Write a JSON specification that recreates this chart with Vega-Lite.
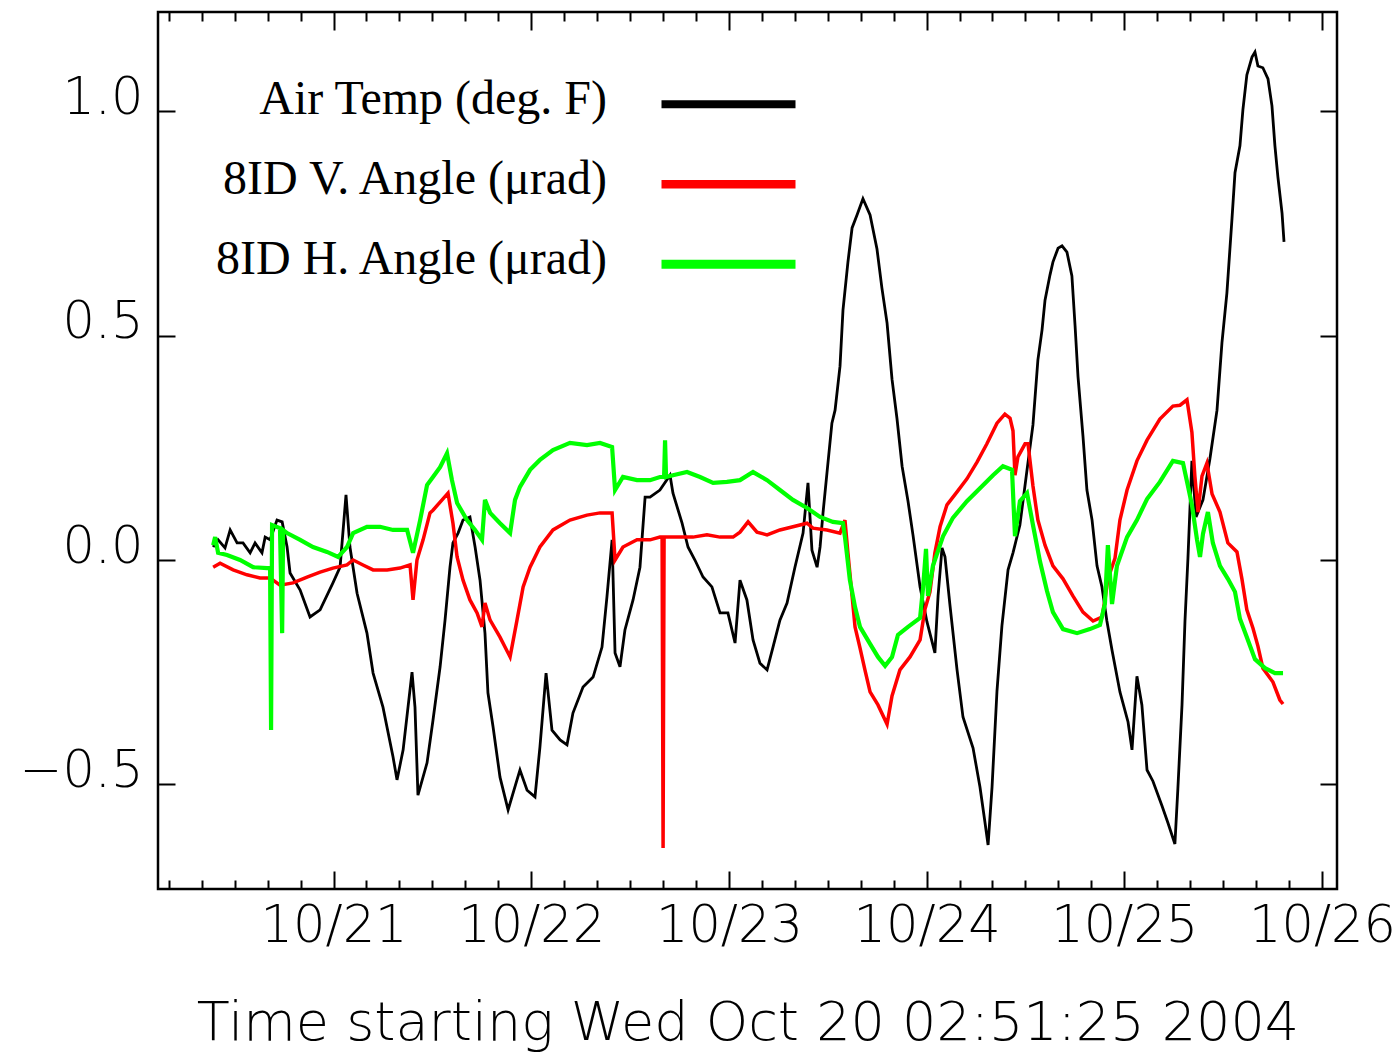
{
  "$schema": "https://vega.github.io/schema/vega-lite/v6.json",
  "width": 1179,
  "height": 877,
  "autosize": "none",
  "padding": {"left": 158, "top": 12, "right": 60, "bottom": 166},
  "background": "white",
  "config": {
    "view": {"stroke": "black", "strokeWidth": 2.5},
    "axis": {"grid": false, "domain": false, "tickColor": "black", "tickWidth": 2, "labelColor": "black", "labelFont": "DejaVu Sans", "labelFontSize": 51, "labelFontWeight": 200, "labelFlush": false, "labelOverlap": false, "titleColor": "black"}
  },
  "data": {"values": [
    {"s":"Air Temp (deg. F)","d":20.391,"v":0.029},{"s":"Air Temp (deg. F)","d":20.416,"v":0.045},{"s":"Air Temp (deg. F)","d":20.451,"v":0.027},{"s":"Air Temp (deg. F)","d":20.477,"v":0.067},{"s":"Air Temp (deg. F)","d":20.512,"v":0.038},{"s":"Air Temp (deg. F)","d":20.542,"v":0.038},{"s":"Air Temp (deg. F)","d":20.578,"v":0.016},{"s":"Air Temp (deg. F)","d":20.603,"v":0.038},{"s":"Air Temp (deg. F)","d":20.638,"v":0.016},{"s":"Air Temp (deg. F)","d":20.654,"v":0.051},{"s":"Air Temp (deg. F)","d":20.679,"v":0.045},{"s":"Air Temp (deg. F)","d":20.714,"v":0.089},{"s":"Air Temp (deg. F)","d":20.740,"v":0.085},{"s":"Air Temp (deg. F)","d":20.765,"v":0.029},{"s":"Air Temp (deg. F)","d":20.780,"v":-0.029},{"s":"Air Temp (deg. F)","d":20.831,"v":-0.067},{"s":"Air Temp (deg. F)","d":20.881,"v":-0.127},{"s":"Air Temp (deg. F)","d":20.932,"v":-0.111},{"s":"Air Temp (deg. F)","d":20.997,"v":-0.051},{"s":"Air Temp (deg. F)","d":21.033,"v":-0.016},{"s":"Air Temp (deg. F)","d":21.063,"v":0.145},{"s":"Air Temp (deg. F)","d":21.083,"v":0.029},{"s":"Air Temp (deg. F)","d":21.119,"v":-0.074},{"s":"Air Temp (deg. F)","d":21.169,"v":-0.163},{"s":"Air Temp (deg. F)","d":21.200,"v":-0.252},{"s":"Air Temp (deg. F)","d":21.250,"v":-0.328},{"s":"Air Temp (deg. F)","d":21.301,"v":-0.439},{"s":"Air Temp (deg. F)","d":21.321,"v":-0.490},{"s":"Air Temp (deg. F)","d":21.352,"v":-0.423},{"s":"Air Temp (deg. F)","d":21.397,"v":-0.250},{"s":"Air Temp (deg. F)","d":21.412,"v":-0.328},{"s":"Air Temp (deg. F)","d":21.427,"v":-0.524},{"s":"Air Temp (deg. F)","d":21.473,"v":-0.452},{"s":"Air Temp (deg. F)","d":21.503,"v":-0.357},{"s":"Air Temp (deg. F)","d":21.539,"v":-0.238},{"s":"Air Temp (deg. F)","d":21.564,"v":-0.134},{"s":"Air Temp (deg. F)","d":21.589,"v":-0.016},{"s":"Air Temp (deg. F)","d":21.604,"v":0.038},{"s":"Air Temp (deg. F)","d":21.630,"v":0.060},{"s":"Air Temp (deg. F)","d":21.655,"v":0.089},{"s":"Air Temp (deg. F)","d":21.690,"v":0.096},{"s":"Air Temp (deg. F)","d":21.716,"v":0.029},{"s":"Air Temp (deg. F)","d":21.741,"v":-0.045},{"s":"Air Temp (deg. F)","d":21.766,"v":-0.163},{"s":"Air Temp (deg. F)","d":21.781,"v":-0.296},{"s":"Air Temp (deg. F)","d":21.807,"v":-0.372},{"s":"Air Temp (deg. F)","d":21.842,"v":-0.484},{"s":"Air Temp (deg. F)","d":21.883,"v":-0.557},{"s":"Air Temp (deg. F)","d":21.928,"v":-0.490},{"s":"Air Temp (deg. F)","d":21.943,"v":-0.468},{"s":"Air Temp (deg. F)","d":21.979,"v":-0.513},{"s":"Air Temp (deg. F)","d":22.019,"v":-0.528},{"s":"Air Temp (deg. F)","d":22.044,"v":-0.417},{"s":"Air Temp (deg. F)","d":22.075,"v":-0.252},{"s":"Air Temp (deg. F)","d":22.105,"v":-0.379},{"s":"Air Temp (deg. F)","d":22.146,"v":-0.401},{"s":"Air Temp (deg. F)","d":22.181,"v":-0.412},{"s":"Air Temp (deg. F)","d":22.211,"v":-0.341},{"s":"Air Temp (deg. F)","d":22.262,"v":-0.283},{"s":"Air Temp (deg. F)","d":22.313,"v":-0.261},{"s":"Air Temp (deg. F)","d":22.358,"v":-0.194},{"s":"Air Temp (deg. F)","d":22.383,"v":-0.082},{"s":"Air Temp (deg. F)","d":22.409,"v":0.045},{"s":"Air Temp (deg. F)","d":22.424,"v":-0.207},{"s":"Air Temp (deg. F)","d":22.449,"v":-0.238},{"s":"Air Temp (deg. F)","d":22.474,"v":-0.156},{"s":"Air Temp (deg. F)","d":22.515,"v":-0.089},{"s":"Air Temp (deg. F)","d":22.550,"v":-0.016},{"s":"Air Temp (deg. F)","d":22.576,"v":0.140},{"s":"Air Temp (deg. F)","d":22.601,"v":0.140},{"s":"Air Temp (deg. F)","d":22.651,"v":0.156},{"s":"Air Temp (deg. F)","d":22.702,"v":0.189},{"s":"Air Temp (deg. F)","d":22.717,"v":0.149},{"s":"Air Temp (deg. F)","d":22.763,"v":0.082},{"s":"Air Temp (deg. F)","d":22.793,"v":0.029},{"s":"Air Temp (deg. F)","d":22.828,"v":0.000},{"s":"Air Temp (deg. F)","d":22.869,"v":-0.038},{"s":"Air Temp (deg. F)","d":22.914,"v":-0.060},{"s":"Air Temp (deg. F)","d":22.955,"v":-0.118},{"s":"Air Temp (deg. F)","d":22.995,"v":-0.118},{"s":"Air Temp (deg. F)","d":23.031,"v":-0.185},{"s":"Air Temp (deg. F)","d":23.056,"v":-0.045},{"s":"Air Temp (deg. F)","d":23.091,"v":-0.089},{"s":"Air Temp (deg. F)","d":23.122,"v":-0.178},{"s":"Air Temp (deg. F)","d":23.157,"v":-0.230},{"s":"Air Temp (deg. F)","d":23.193,"v":-0.245},{"s":"Air Temp (deg. F)","d":23.223,"v":-0.194},{"s":"Air Temp (deg. F)","d":23.258,"v":-0.134},{"s":"Air Temp (deg. F)","d":23.294,"v":-0.096},{"s":"Air Temp (deg. F)","d":23.334,"v":-0.016},{"s":"Air Temp (deg. F)","d":23.375,"v":0.060},{"s":"Air Temp (deg. F)","d":23.400,"v":0.172},{"s":"Air Temp (deg. F)","d":23.420,"v":0.022},{"s":"Air Temp (deg. F)","d":23.446,"v":-0.016},{"s":"Air Temp (deg. F)","d":23.461,"v":0.029},{"s":"Air Temp (deg. F)","d":23.476,"v":0.105},{"s":"Air Temp (deg. F)","d":23.496,"v":0.194},{"s":"Air Temp (deg. F)","d":23.521,"v":0.305},{"s":"Air Temp (deg. F)","d":23.537,"v":0.334},{"s":"Air Temp (deg. F)","d":23.562,"v":0.432},{"s":"Air Temp (deg. F)","d":23.577,"v":0.557},{"s":"Air Temp (deg. F)","d":23.602,"v":0.664},{"s":"Air Temp (deg. F)","d":23.623,"v":0.740},{"s":"Air Temp (deg. F)","d":23.648,"v":0.769},{"s":"Air Temp (deg. F)","d":23.678,"v":0.805},{"s":"Air Temp (deg. F)","d":23.714,"v":0.769},{"s":"Air Temp (deg. F)","d":23.749,"v":0.693},{"s":"Air Temp (deg. F)","d":23.774,"v":0.606},{"s":"Air Temp (deg. F)","d":23.800,"v":0.528},{"s":"Air Temp (deg. F)","d":23.825,"v":0.403},{"s":"Air Temp (deg. F)","d":23.850,"v":0.316},{"s":"Air Temp (deg. F)","d":23.876,"v":0.209},{"s":"Air Temp (deg. F)","d":23.906,"v":0.131},{"s":"Air Temp (deg. F)","d":23.931,"v":0.056},{"s":"Air Temp (deg. F)","d":23.967,"v":-0.060},{"s":"Air Temp (deg. F)","d":24.002,"v":-0.138},{"s":"Air Temp (deg. F)","d":24.042,"v":-0.207},{"s":"Air Temp (deg. F)","d":24.058,"v":-0.080},{"s":"Air Temp (deg. F)","d":24.078,"v":0.027},{"s":"Air Temp (deg. F)","d":24.093,"v":0.007},{"s":"Air Temp (deg. F)","d":24.118,"v":-0.100},{"s":"Air Temp (deg. F)","d":24.154,"v":-0.245},{"s":"Air Temp (deg. F)","d":24.184,"v":-0.350},{"s":"Air Temp (deg. F)","d":24.235,"v":-0.419},{"s":"Air Temp (deg. F)","d":24.270,"v":-0.506},{"s":"Air Temp (deg. F)","d":24.295,"v":-0.584},{"s":"Air Temp (deg. F)","d":24.311,"v":-0.635},{"s":"Air Temp (deg. F)","d":24.331,"v":-0.506},{"s":"Air Temp (deg. F)","d":24.356,"v":-0.292},{"s":"Air Temp (deg. F)","d":24.381,"v":-0.147},{"s":"Air Temp (deg. F)","d":24.412,"v":-0.022},{"s":"Air Temp (deg. F)","d":24.437,"v":0.016},{"s":"Air Temp (deg. F)","d":24.472,"v":0.078},{"s":"Air Temp (deg. F)","d":24.508,"v":0.201},{"s":"Air Temp (deg. F)","d":24.538,"v":0.301},{"s":"Air Temp (deg. F)","d":24.563,"v":0.446},{"s":"Air Temp (deg. F)","d":24.584,"v":0.513},{"s":"Air Temp (deg. F)","d":24.599,"v":0.579},{"s":"Air Temp (deg. F)","d":24.624,"v":0.635},{"s":"Air Temp (deg. F)","d":24.639,"v":0.664},{"s":"Air Temp (deg. F)","d":24.665,"v":0.695},{"s":"Air Temp (deg. F)","d":24.685,"v":0.700},{"s":"Air Temp (deg. F)","d":24.710,"v":0.686},{"s":"Air Temp (deg. F)","d":24.735,"v":0.633},{"s":"Air Temp (deg. F)","d":24.751,"v":0.522},{"s":"Air Temp (deg. F)","d":24.766,"v":0.408},{"s":"Air Temp (deg. F)","d":24.791,"v":0.276},{"s":"Air Temp (deg. F)","d":24.811,"v":0.156},{"s":"Air Temp (deg. F)","d":24.837,"v":0.089},{"s":"Air Temp (deg. F)","d":24.862,"v":-0.013},{"s":"Air Temp (deg. F)","d":24.887,"v":-0.060},{"s":"Air Temp (deg. F)","d":24.912,"v":-0.136},{"s":"Air Temp (deg. F)","d":24.938,"v":-0.201},{"s":"Air Temp (deg. F)","d":24.978,"v":-0.294},{"s":"Air Temp (deg. F)","d":25.019,"v":-0.361},{"s":"Air Temp (deg. F)","d":25.039,"v":-0.423},{"s":"Air Temp (deg. F)","d":25.064,"v":-0.259},{"s":"Air Temp (deg. F)","d":25.089,"v":-0.323},{"s":"Air Temp (deg. F)","d":25.115,"v":-0.468},{"s":"Air Temp (deg. F)","d":25.145,"v":-0.493},{"s":"Air Temp (deg. F)","d":25.191,"v":-0.548},{"s":"Air Temp (deg. F)","d":25.221,"v":-0.586},{"s":"Air Temp (deg. F)","d":25.256,"v":-0.633},{"s":"Air Temp (deg. F)","d":25.271,"v":-0.510},{"s":"Air Temp (deg. F)","d":25.292,"v":-0.323},{"s":"Air Temp (deg. F)","d":25.307,"v":-0.136},{"s":"Air Temp (deg. F)","d":25.322,"v":0.004},{"s":"Air Temp (deg. F)","d":25.342,"v":0.221},{"s":"Air Temp (deg. F)","d":25.363,"v":0.096},{"s":"Air Temp (deg. F)","d":25.398,"v":0.134},{"s":"Air Temp (deg. F)","d":25.433,"v":0.225},{"s":"Air Temp (deg. F)","d":25.469,"v":0.334},{"s":"Air Temp (deg. F)","d":25.494,"v":0.484},{"s":"Air Temp (deg. F)","d":25.519,"v":0.595},{"s":"Air Temp (deg. F)","d":25.545,"v":0.762},{"s":"Air Temp (deg. F)","d":25.560,"v":0.863},{"s":"Air Temp (deg. F)","d":25.585,"v":0.923},{"s":"Air Temp (deg. F)","d":25.600,"v":1.003},{"s":"Air Temp (deg. F)","d":25.620,"v":1.081},{"s":"Air Temp (deg. F)","d":25.646,"v":1.121},{"s":"Air Temp (deg. F)","d":25.661,"v":1.132},{"s":"Air Temp (deg. F)","d":25.676,"v":1.101},{"s":"Air Temp (deg. F)","d":25.701,"v":1.097},{"s":"Air Temp (deg. F)","d":25.727,"v":1.072},{"s":"Air Temp (deg. F)","d":25.747,"v":1.012},{"s":"Air Temp (deg. F)","d":25.762,"v":0.923},{"s":"Air Temp (deg. F)","d":25.777,"v":0.854},{"s":"Air Temp (deg. F)","d":25.798,"v":0.773},{"s":"Air Temp (deg. F)","d":25.808,"v":0.709},
    {"s":"8ID V. Angle (μrad)","d":20.391,"v":-0.016},{"s":"8ID V. Angle (μrad)","d":20.426,"v":-0.007},{"s":"8ID V. Angle (μrad)","d":20.492,"v":-0.022},{"s":"8ID V. Angle (μrad)","d":20.562,"v":-0.033},{"s":"8ID V. Angle (μrad)","d":20.628,"v":-0.040},{"s":"8ID V. Angle (μrad)","d":20.679,"v":-0.040},{"s":"8ID V. Angle (μrad)","d":20.729,"v":-0.056},{"s":"8ID V. Angle (μrad)","d":20.795,"v":-0.051},{"s":"8ID V. Angle (μrad)","d":20.866,"v":-0.038},{"s":"8ID V. Angle (μrad)","d":20.932,"v":-0.027},{"s":"8ID V. Angle (μrad)","d":20.997,"v":-0.018},{"s":"8ID V. Angle (μrad)","d":21.068,"v":-0.011},{"s":"8ID V. Angle (μrad)","d":21.099,"v":0.000},{"s":"8ID V. Angle (μrad)","d":21.149,"v":-0.011},{"s":"8ID V. Angle (μrad)","d":21.200,"v":-0.022},{"s":"8ID V. Angle (μrad)","d":21.271,"v":-0.022},{"s":"8ID V. Angle (μrad)","d":21.336,"v":-0.018},{"s":"8ID V. Angle (μrad)","d":21.387,"v":-0.011},{"s":"8ID V. Angle (μrad)","d":21.402,"v":-0.089},{"s":"8ID V. Angle (μrad)","d":21.422,"v":0.000},{"s":"8ID V. Angle (μrad)","d":21.453,"v":0.045},{"s":"8ID V. Angle (μrad)","d":21.488,"v":0.105},{"s":"8ID V. Angle (μrad)","d":21.503,"v":0.111},{"s":"8ID V. Angle (μrad)","d":21.549,"v":0.134},{"s":"8ID V. Angle (μrad)","d":21.579,"v":0.149},{"s":"8ID V. Angle (μrad)","d":21.604,"v":0.082},{"s":"8ID V. Angle (μrad)","d":21.625,"v":0.007},{"s":"8ID V. Angle (μrad)","d":21.655,"v":-0.045},{"s":"8ID V. Angle (μrad)","d":21.690,"v":-0.089},{"s":"8ID V. Angle (μrad)","d":21.726,"v":-0.118},{"s":"8ID V. Angle (μrad)","d":21.751,"v":-0.149},{"s":"8ID V. Angle (μrad)","d":21.766,"v":-0.096},{"s":"8ID V. Angle (μrad)","d":21.792,"v":-0.134},{"s":"8ID V. Angle (μrad)","d":21.842,"v":-0.172},{"s":"8ID V. Angle (μrad)","d":21.893,"v":-0.216},{"s":"8ID V. Angle (μrad)","d":21.928,"v":-0.134},{"s":"8ID V. Angle (μrad)","d":21.959,"v":-0.060},{"s":"8ID V. Angle (μrad)","d":21.994,"v":-0.016},{"s":"8ID V. Angle (μrad)","d":22.044,"v":0.029},{"s":"8ID V. Angle (μrad)","d":22.110,"v":0.067},{"s":"8ID V. Angle (μrad)","d":22.196,"v":0.089},{"s":"8ID V. Angle (μrad)","d":22.282,"v":0.100},{"s":"8ID V. Angle (μrad)","d":22.348,"v":0.105},{"s":"8ID V. Angle (μrad)","d":22.409,"v":0.105},{"s":"8ID V. Angle (μrad)","d":22.424,"v":0.000},{"s":"8ID V. Angle (μrad)","d":22.464,"v":0.029},{"s":"8ID V. Angle (μrad)","d":22.535,"v":0.045},{"s":"8ID V. Angle (μrad)","d":22.601,"v":0.045},{"s":"8ID V. Angle (μrad)","d":22.651,"v":0.051},{"s":"8ID V. Angle (μrad)","d":22.662,"v":0.051},{"s":"8ID V. Angle (μrad)","d":22.667,"v":-0.642},{"s":"8ID V. Angle (μrad)","d":22.672,"v":0.051},{"s":"8ID V. Angle (μrad)","d":22.753,"v":0.051},{"s":"8ID V. Angle (μrad)","d":22.818,"v":0.051},{"s":"8ID V. Angle (μrad)","d":22.889,"v":0.056},{"s":"8ID V. Angle (μrad)","d":22.955,"v":0.051},{"s":"8ID V. Angle (μrad)","d":23.021,"v":0.051},{"s":"8ID V. Angle (μrad)","d":23.056,"v":0.062},{"s":"8ID V. Angle (μrad)","d":23.097,"v":0.085},{"s":"8ID V. Angle (μrad)","d":23.142,"v":0.062},{"s":"8ID V. Angle (μrad)","d":23.193,"v":0.056},{"s":"8ID V. Angle (μrad)","d":23.258,"v":0.067},{"s":"8ID V. Angle (μrad)","d":23.324,"v":0.074},{"s":"8ID V. Angle (μrad)","d":23.395,"v":0.082},{"s":"8ID V. Angle (μrad)","d":23.425,"v":0.071},{"s":"8ID V. Angle (μrad)","d":23.496,"v":0.067},{"s":"8ID V. Angle (μrad)","d":23.562,"v":0.060},{"s":"8ID V. Angle (μrad)","d":23.587,"v":0.089},{"s":"8ID V. Angle (μrad)","d":23.602,"v":0.016},{"s":"8ID V. Angle (μrad)","d":23.623,"v":-0.080},{"s":"8ID V. Angle (μrad)","d":23.638,"v":-0.149},{"s":"8ID V. Angle (μrad)","d":23.663,"v":-0.196},{"s":"8ID V. Angle (μrad)","d":23.688,"v":-0.245},{"s":"8ID V. Angle (μrad)","d":23.714,"v":-0.294},{"s":"8ID V. Angle (μrad)","d":23.754,"v":-0.323},{"s":"8ID V. Angle (μrad)","d":23.800,"v":-0.366},{"s":"8ID V. Angle (μrad)","d":23.825,"v":-0.303},{"s":"8ID V. Angle (μrad)","d":23.865,"v":-0.245},{"s":"8ID V. Angle (μrad)","d":23.916,"v":-0.216},{"s":"8ID V. Angle (μrad)","d":23.967,"v":-0.178},{"s":"8ID V. Angle (μrad)","d":23.992,"v":-0.109},{"s":"8ID V. Angle (μrad)","d":24.017,"v":-0.071},{"s":"8ID V. Angle (μrad)","d":24.042,"v":0.016},{"s":"8ID V. Angle (μrad)","d":24.068,"v":0.074},{"s":"8ID V. Angle (μrad)","d":24.103,"v":0.123},{"s":"8ID V. Angle (μrad)","d":24.154,"v":0.152},{"s":"8ID V. Angle (μrad)","d":24.204,"v":0.181},{"s":"8ID V. Angle (μrad)","d":24.255,"v":0.218},{"s":"8ID V. Angle (μrad)","d":24.305,"v":0.259},{"s":"8ID V. Angle (μrad)","d":24.356,"v":0.305},{"s":"8ID V. Angle (μrad)","d":24.396,"v":0.325},{"s":"8ID V. Angle (μrad)","d":24.422,"v":0.316},{"s":"8ID V. Angle (μrad)","d":24.437,"v":0.288},{"s":"8ID V. Angle (μrad)","d":24.447,"v":0.189},{"s":"8ID V. Angle (μrad)","d":24.462,"v":0.230},{"s":"8ID V. Angle (μrad)","d":24.498,"v":0.259},{"s":"8ID V. Angle (μrad)","d":24.513,"v":0.259},{"s":"8ID V. Angle (μrad)","d":24.538,"v":0.165},{"s":"8ID V. Angle (μrad)","d":24.563,"v":0.089},{"s":"8ID V. Angle (μrad)","d":24.599,"v":0.033},{"s":"8ID V. Angle (μrad)","d":24.639,"v":-0.013},{"s":"8ID V. Angle (μrad)","d":24.690,"v":-0.042},{"s":"8ID V. Angle (μrad)","d":24.740,"v":-0.080},{"s":"8ID V. Angle (μrad)","d":24.791,"v":-0.116},{"s":"8ID V. Angle (μrad)","d":24.842,"v":-0.136},{"s":"8ID V. Angle (μrad)","d":24.887,"v":-0.127},{"s":"8ID V. Angle (μrad)","d":24.902,"v":-0.089},{"s":"8ID V. Angle (μrad)","d":24.917,"v":-0.042},{"s":"8ID V. Angle (μrad)","d":24.953,"v":0.004},{"s":"8ID V. Angle (μrad)","d":24.978,"v":0.089},{"s":"8ID V. Angle (μrad)","d":25.014,"v":0.156},{"s":"8ID V. Angle (μrad)","d":25.064,"v":0.221},{"s":"8ID V. Angle (μrad)","d":25.115,"v":0.267},{"s":"8ID V. Angle (μrad)","d":25.180,"v":0.314},{"s":"8ID V. Angle (μrad)","d":25.246,"v":0.343},{"s":"8ID V. Angle (μrad)","d":25.282,"v":0.345},{"s":"8ID V. Angle (μrad)","d":25.317,"v":0.357},{"s":"8ID V. Angle (μrad)","d":25.342,"v":0.285},{"s":"8ID V. Angle (μrad)","d":25.357,"v":0.187},{"s":"8ID V. Angle (μrad)","d":25.373,"v":0.107},{"s":"8ID V. Angle (μrad)","d":25.393,"v":0.187},{"s":"8ID V. Angle (μrad)","d":25.418,"v":0.216},{"s":"8ID V. Angle (μrad)","d":25.444,"v":0.147},{"s":"8ID V. Angle (μrad)","d":25.484,"v":0.107},{"s":"8ID V. Angle (μrad)","d":25.524,"v":0.038},{"s":"8ID V. Angle (μrad)","d":25.570,"v":0.018},{"s":"8ID V. Angle (μrad)","d":25.595,"v":-0.042},{"s":"8ID V. Angle (μrad)","d":25.620,"v":-0.111},{"s":"8ID V. Angle (μrad)","d":25.651,"v":-0.152},{"s":"8ID V. Angle (μrad)","d":25.676,"v":-0.192},{"s":"8ID V. Angle (μrad)","d":25.701,"v":-0.241},{"s":"8ID V. Angle (μrad)","d":25.752,"v":-0.272},{"s":"8ID V. Angle (μrad)","d":25.787,"v":-0.312},{"s":"8ID V. Angle (μrad)","d":25.803,"v":-0.321},
    {"s":"8ID H. Angle (μrad)","d":20.391,"v":0.033},{"s":"8ID H. Angle (μrad)","d":20.401,"v":0.051},{"s":"8ID H. Angle (μrad)","d":20.416,"v":0.016},{"s":"8ID H. Angle (μrad)","d":20.461,"v":0.011},{"s":"8ID H. Angle (μrad)","d":20.527,"v":0.000},{"s":"8ID H. Angle (μrad)","d":20.593,"v":-0.016},{"s":"8ID H. Angle (μrad)","d":20.664,"v":-0.018},{"s":"8ID H. Angle (μrad)","d":20.679,"v":-0.018},{"s":"8ID H. Angle (μrad)","d":20.684,"v":-0.379},{"s":"8ID H. Angle (μrad)","d":20.689,"v":0.078},{"s":"8ID H. Angle (μrad)","d":20.729,"v":0.071},{"s":"8ID H. Angle (μrad)","d":20.740,"v":-0.163},{"s":"8ID H. Angle (μrad)","d":20.745,"v":0.067},{"s":"8ID H. Angle (μrad)","d":20.765,"v":0.060},{"s":"8ID H. Angle (μrad)","d":20.831,"v":0.045},{"s":"8ID H. Angle (μrad)","d":20.896,"v":0.029},{"s":"8ID H. Angle (μrad)","d":20.967,"v":0.018},{"s":"8ID H. Angle (μrad)","d":21.023,"v":0.007},{"s":"8ID H. Angle (μrad)","d":21.068,"v":0.029},{"s":"8ID H. Angle (μrad)","d":21.099,"v":0.060},{"s":"8ID H. Angle (μrad)","d":21.169,"v":0.074},{"s":"8ID H. Angle (μrad)","d":21.235,"v":0.074},{"s":"8ID H. Angle (μrad)","d":21.301,"v":0.067},{"s":"8ID H. Angle (μrad)","d":21.372,"v":0.067},{"s":"8ID H. Angle (μrad)","d":21.402,"v":0.016},{"s":"8ID H. Angle (μrad)","d":21.438,"v":0.089},{"s":"8ID H. Angle (μrad)","d":21.473,"v":0.167},{"s":"8ID H. Angle (μrad)","d":21.503,"v":0.185},{"s":"8ID H. Angle (μrad)","d":21.539,"v":0.207},{"s":"8ID H. Angle (μrad)","d":21.574,"v":0.238},{"s":"8ID H. Angle (μrad)","d":21.599,"v":0.178},{"s":"8ID H. Angle (μrad)","d":21.625,"v":0.127},{"s":"8ID H. Angle (μrad)","d":21.675,"v":0.089},{"s":"8ID H. Angle (μrad)","d":21.716,"v":0.067},{"s":"8ID H. Angle (μrad)","d":21.751,"v":0.045},{"s":"8ID H. Angle (μrad)","d":21.766,"v":0.134},{"s":"8ID H. Angle (μrad)","d":21.792,"v":0.105},{"s":"8ID H. Angle (μrad)","d":21.842,"v":0.082},{"s":"8ID H. Angle (μrad)","d":21.893,"v":0.060},{"s":"8ID H. Angle (μrad)","d":21.918,"v":0.134},{"s":"8ID H. Angle (μrad)","d":21.943,"v":0.163},{"s":"8ID H. Angle (μrad)","d":21.994,"v":0.201},{"s":"8ID H. Angle (μrad)","d":22.044,"v":0.223},{"s":"8ID H. Angle (μrad)","d":22.110,"v":0.245},{"s":"8ID H. Angle (μrad)","d":22.196,"v":0.261},{"s":"8ID H. Angle (μrad)","d":22.282,"v":0.256},{"s":"8ID H. Angle (μrad)","d":22.348,"v":0.261},{"s":"8ID H. Angle (μrad)","d":22.409,"v":0.252},{"s":"8ID H. Angle (μrad)","d":22.424,"v":0.156},{"s":"8ID H. Angle (μrad)","d":22.464,"v":0.185},{"s":"8ID H. Angle (μrad)","d":22.535,"v":0.178},{"s":"8ID H. Angle (μrad)","d":22.601,"v":0.178},{"s":"8ID H. Angle (μrad)","d":22.651,"v":0.185},{"s":"8ID H. Angle (μrad)","d":22.672,"v":0.185},{"s":"8ID H. Angle (μrad)","d":22.677,"v":0.267},{"s":"8ID H. Angle (μrad)","d":22.682,"v":0.185},{"s":"8ID H. Angle (μrad)","d":22.717,"v":0.189},{"s":"8ID H. Angle (μrad)","d":22.788,"v":0.196},{"s":"8ID H. Angle (μrad)","d":22.854,"v":0.185},{"s":"8ID H. Angle (μrad)","d":22.920,"v":0.172},{"s":"8ID H. Angle (μrad)","d":22.990,"v":0.174},{"s":"8ID H. Angle (μrad)","d":23.056,"v":0.178},{"s":"8ID H. Angle (μrad)","d":23.122,"v":0.196},{"s":"8ID H. Angle (μrad)","d":23.193,"v":0.178},{"s":"8ID H. Angle (μrad)","d":23.258,"v":0.156},{"s":"8ID H. Angle (μrad)","d":23.324,"v":0.134},{"s":"8ID H. Angle (μrad)","d":23.395,"v":0.116},{"s":"8ID H. Angle (μrad)","d":23.461,"v":0.096},{"s":"8ID H. Angle (μrad)","d":23.526,"v":0.085},{"s":"8ID H. Angle (μrad)","d":23.577,"v":0.082},{"s":"8ID H. Angle (μrad)","d":23.587,"v":0.051},{"s":"8ID H. Angle (μrad)","d":23.612,"v":-0.045},{"s":"8ID H. Angle (μrad)","d":23.638,"v":-0.105},{"s":"8ID H. Angle (μrad)","d":23.663,"v":-0.149},{"s":"8ID H. Angle (μrad)","d":23.714,"v":-0.187},{"s":"8ID H. Angle (μrad)","d":23.754,"v":-0.216},{"s":"8ID H. Angle (μrad)","d":23.790,"v":-0.236},{"s":"8ID H. Angle (μrad)","d":23.825,"v":-0.216},{"s":"8ID H. Angle (μrad)","d":23.855,"v":-0.167},{"s":"8ID H. Angle (μrad)","d":23.906,"v":-0.149},{"s":"8ID H. Angle (μrad)","d":23.967,"v":-0.129},{"s":"8ID H. Angle (μrad)","d":23.982,"v":-0.062},{"s":"8ID H. Angle (μrad)","d":23.997,"v":0.025},{"s":"8ID H. Angle (μrad)","d":24.007,"v":-0.080},{"s":"8ID H. Angle (μrad)","d":24.032,"v":-0.013},{"s":"8ID H. Angle (μrad)","d":24.083,"v":0.053},{"s":"8ID H. Angle (μrad)","d":24.133,"v":0.094},{"s":"8ID H. Angle (μrad)","d":24.204,"v":0.131},{"s":"8ID H. Angle (μrad)","d":24.270,"v":0.160},{"s":"8ID H. Angle (μrad)","d":24.336,"v":0.189},{"s":"8ID H. Angle (μrad)","d":24.386,"v":0.209},{"s":"8ID H. Angle (μrad)","d":24.432,"v":0.201},{"s":"8ID H. Angle (μrad)","d":24.447,"v":0.053},{"s":"8ID H. Angle (μrad)","d":24.472,"v":0.131},{"s":"8ID H. Angle (μrad)","d":24.508,"v":0.149},{"s":"8ID H. Angle (μrad)","d":24.538,"v":0.078},{"s":"8ID H. Angle (μrad)","d":24.574,"v":-0.004},{"s":"8ID H. Angle (μrad)","d":24.609,"v":-0.069},{"s":"8ID H. Angle (μrad)","d":24.639,"v":-0.116},{"s":"8ID H. Angle (μrad)","d":24.690,"v":-0.154},{"s":"8ID H. Angle (μrad)","d":24.761,"v":-0.163},{"s":"8ID H. Angle (μrad)","d":24.826,"v":-0.154},{"s":"8ID H. Angle (μrad)","d":24.877,"v":-0.145},{"s":"8ID H. Angle (μrad)","d":24.902,"v":-0.098},{"s":"8ID H. Angle (μrad)","d":24.917,"v":0.033},{"s":"8ID H. Angle (μrad)","d":24.938,"v":-0.098},{"s":"8ID H. Angle (μrad)","d":24.963,"v":-0.013},{"s":"8ID H. Angle (μrad)","d":25.014,"v":0.051},{"s":"8ID H. Angle (μrad)","d":25.064,"v":0.089},{"s":"8ID H. Angle (μrad)","d":25.115,"v":0.136},{"s":"8ID H. Angle (μrad)","d":25.180,"v":0.174},{"s":"8ID H. Angle (μrad)","d":25.246,"v":0.221},{"s":"8ID H. Angle (μrad)","d":25.297,"v":0.216},{"s":"8ID H. Angle (μrad)","d":25.322,"v":0.165},{"s":"8ID H. Angle (μrad)","d":25.342,"v":0.123},{"s":"8ID H. Angle (μrad)","d":25.368,"v":0.045},{"s":"8ID H. Angle (μrad)","d":25.383,"v":0.007},{"s":"8ID H. Angle (μrad)","d":25.398,"v":0.058},{"s":"8ID H. Angle (μrad)","d":25.423,"v":0.107},{"s":"8ID H. Angle (μrad)","d":25.448,"v":0.038},{"s":"8ID H. Angle (μrad)","d":25.484,"v":-0.013},{"s":"8ID H. Angle (μrad)","d":25.524,"v":-0.042},{"s":"8ID H. Angle (μrad)","d":25.560,"v":-0.071},{"s":"8ID H. Angle (μrad)","d":25.585,"v":-0.131},{"s":"8ID H. Angle (μrad)","d":25.620,"v":-0.172},{"s":"8ID H. Angle (μrad)","d":25.661,"v":-0.221},{"s":"8ID H. Angle (μrad)","d":25.712,"v":-0.241},{"s":"8ID H. Angle (μrad)","d":25.762,"v":-0.252},{"s":"8ID H. Angle (μrad)","d":25.803,"v":-0.252}
  ]},
  "resolve": {"axis": {"x": "independent", "y": "independent"}},
  "layer": [
    {
      "mark": {"type": "line", "interpolate": "linear"},
      "encoding": {
        "x": {"field": "d", "type": "quantitative", "scale": {"domain": [20.112, 26.076], "nice": false, "zero": false},
          "axis": {"orient": "bottom", "values": [21, 22, 23, 24, 25, 26], "labelExpr": "'10/' + datum.value", "tickSize": -18, "labelPadding": 30, "title": "Time starting Wed Oct 20 02:51:25 2004", "titleFont": "DejaVu Sans", "titleFontSize": 54, "titleFontWeight": 200, "titlePadding": 45}},
        "y": {"field": "v", "type": "quantitative", "scale": {"domain": [-0.7332, 1.2213], "nice": false, "zero": false},
          "axis": {"orient": "left", "values": [-0.5, 0, 0.5, 1], "format": ".1f", "tickSize": -17, "labelPadding": 32, "labelBaseline": "alphabetic", "labelOffset": 2, "title": null}},
        "color": {"field": "s", "type": "nominal",
          "scale": {"domain": ["Air Temp (deg. F)", "8ID V. Angle (μrad)", "8ID H. Angle (μrad)"], "range": ["#000000", "#ff0000", "#00ff00"]},
          "legend": {"orient": "none", "legendX": 449, "legendY": 64, "title": null, "padding": 0, "labelFont": "Liberation Serif", "labelFontSize": 48, "labelColor": "black", "labelAlign": "right", "labelOffset": -48, "labelLimit": 800, "symbolType": "M6.1,0.35H32.9M6.1,0.6H32.9M6.1,0.85H32.9M6.1,1.1H32.9M6.1,1.35H32.9", "symbolSize": 100, "symbolStrokeWidth": 2, "symbolOffset": 0, "rowPadding": 32}},
        "strokeWidth": {"field": "s", "type": "nominal", "scale": {"domain": ["Air Temp (deg. F)", "8ID V. Angle (μrad)", "8ID H. Angle (μrad)"], "range": [2.8, 4.2, 4.2]}, "legend": null}
      }
    },
    {
      "data": {"values": []},
      "mark": {"type": "point", "opacity": 0},
      "encoding": {
        "x": {"field": "d", "type": "quantitative", "axis": {"orient": "bottom", "values": [20.1667,20.3333,20.5,20.6667,20.8333,21.1667,21.3333,21.5,21.6667,21.8333,22.1667,22.3333,22.5,22.6667,22.8333,23.1667,23.3333,23.5,23.6667,23.8333,24.1667,24.3333,24.5,24.6667,24.8333,25.1667,25.3333,25.5,25.6667,25.8333], "tickSize": -9, "labels": false, "title": null}},
        "y": {"field": "v", "type": "quantitative", "axis": {"orient": "right", "values": [-0.5, 0, 0.5, 1], "tickSize": -17, "labels": false, "title": null}}
      }
    },
    {
      "data": {"values": []},
      "mark": {"type": "point", "opacity": 0},
      "encoding": {
        "x": {"field": "d", "type": "quantitative", "axis": {"orient": "top", "values": [21, 22, 23, 24, 25, 26], "tickSize": -18, "labels": false, "title": null}},
        "y": {"field": "v", "type": "quantitative", "axis": null}
      }
    },
    {
      "data": {"values": []},
      "mark": {"type": "point", "opacity": 0},
      "encoding": {
        "x": {"field": "d", "type": "quantitative", "axis": {"orient": "top", "values": [20.1667,20.3333,20.5,20.6667,20.8333,21.1667,21.3333,21.5,21.6667,21.8333,22.1667,22.3333,22.5,22.6667,22.8333,23.1667,23.3333,23.5,23.6667,23.8333,24.1667,24.3333,24.5,24.6667,24.8333,25.1667,25.3333,25.5,25.6667,25.8333], "tickSize": -9, "labels": false, "title": null}},
        "y": {"field": "v", "type": "quantitative", "axis": null}
      }
    }
  ]
}
